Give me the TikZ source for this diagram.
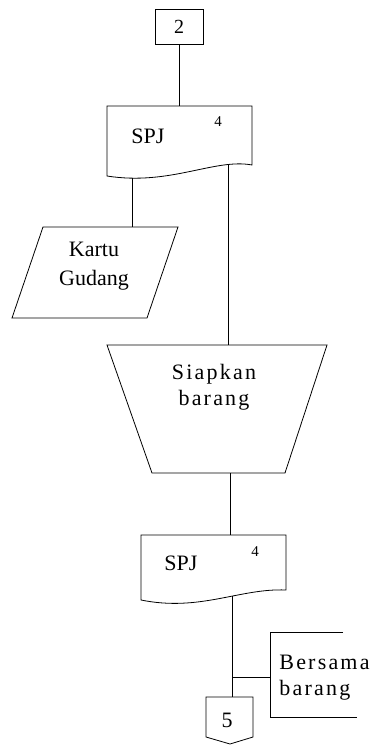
\documentclass[tikz,border=0pt]{standalone}
\usepackage{fontspec}
\setmainfont{Liberation Serif}
\usepackage{tikz}

\begin{document}
\begin{tikzpicture}[x=1pt,y=-1pt,line width=0.8pt,
  lbl/.style={font=\fontsize{22}{29}\selectfont,align=center,inner sep=0pt},
  wide/.style={font=\fontsize{22}{26}\selectfont\addfontfeature{LetterSpace=10},inner sep=0pt},
  idx/.style={font=\fontsize{15}{15}\selectfont,inner sep=0pt}]
\useasboundingbox (0,0) rectangle (376,745);

\node[draw,minimum width=48,minimum height=35,inner sep=0pt,font=\fontsize{20}{20}\selectfont] (con2) at (179,27) {2};

\draw (107,106) -- (252,106) -- (252,165) .. controls (215,158) and (170,186) .. (107,176) -- cycle;
\node[lbl] (spj1) at (148,136) {SPJ};
\node[idx] (no1) at (218,122) {4};

\draw (43,227) -- (178,227) -- (147,318) -- (12,318) -- cycle;
\node[lbl] (kartu) at (94,266) {Kartu\\Gudang};

\draw (107,345) -- (327,345) -- (285,473) -- (152,473) -- cycle;
\node[wide,align=center] (siap) at (214,387) {Siapkan\\barang};

\draw (141,535) -- (286,535) -- (286,590) .. controls (240,588) and (200,612) .. (141,600) -- cycle;
\node[lbl] (spj2) at (181,563) {SPJ};
\node[idx] (no2) at (255,552) {4};

\draw (206,697) -- (253,697) -- (253,737) -- (230,744) -- (206,737) -- cycle;
\node[font=\fontsize{22}{22}\selectfont,inner sep=0pt] (con5) at (227,720) {5};

\draw (343,632) -- (270,632) -- (270,717) -- (357,717);
\node[wide,align=left,anchor=west] (bersama) at (279,678) {Bersama\\barang};

\coordinate (s1in) at (179,106);
\coordinate (s1outa) at (132,178);
\coordinate (s1outb) at (228,164);
\coordinate (kgin) at (132,227);
\coordinate (opin) at (228,345);
\coordinate (opout) at (230,473);
\coordinate (s2in) at (230,535);
\coordinate (s2out) at (232,596);
\coordinate (c5in) at (232,697);
\coordinate (tap) at (232,677);
\coordinate (brk) at (270,677);

\draw (con2.south) -- (s1in);
\draw (s1outa) -- (kgin);
\draw (s1outb) -- (opin);
\draw (opout) -- (s2in);
\draw (s2out) -- (c5in);
\draw (tap) -- (brk);
\end{tikzpicture}
\end{document}
